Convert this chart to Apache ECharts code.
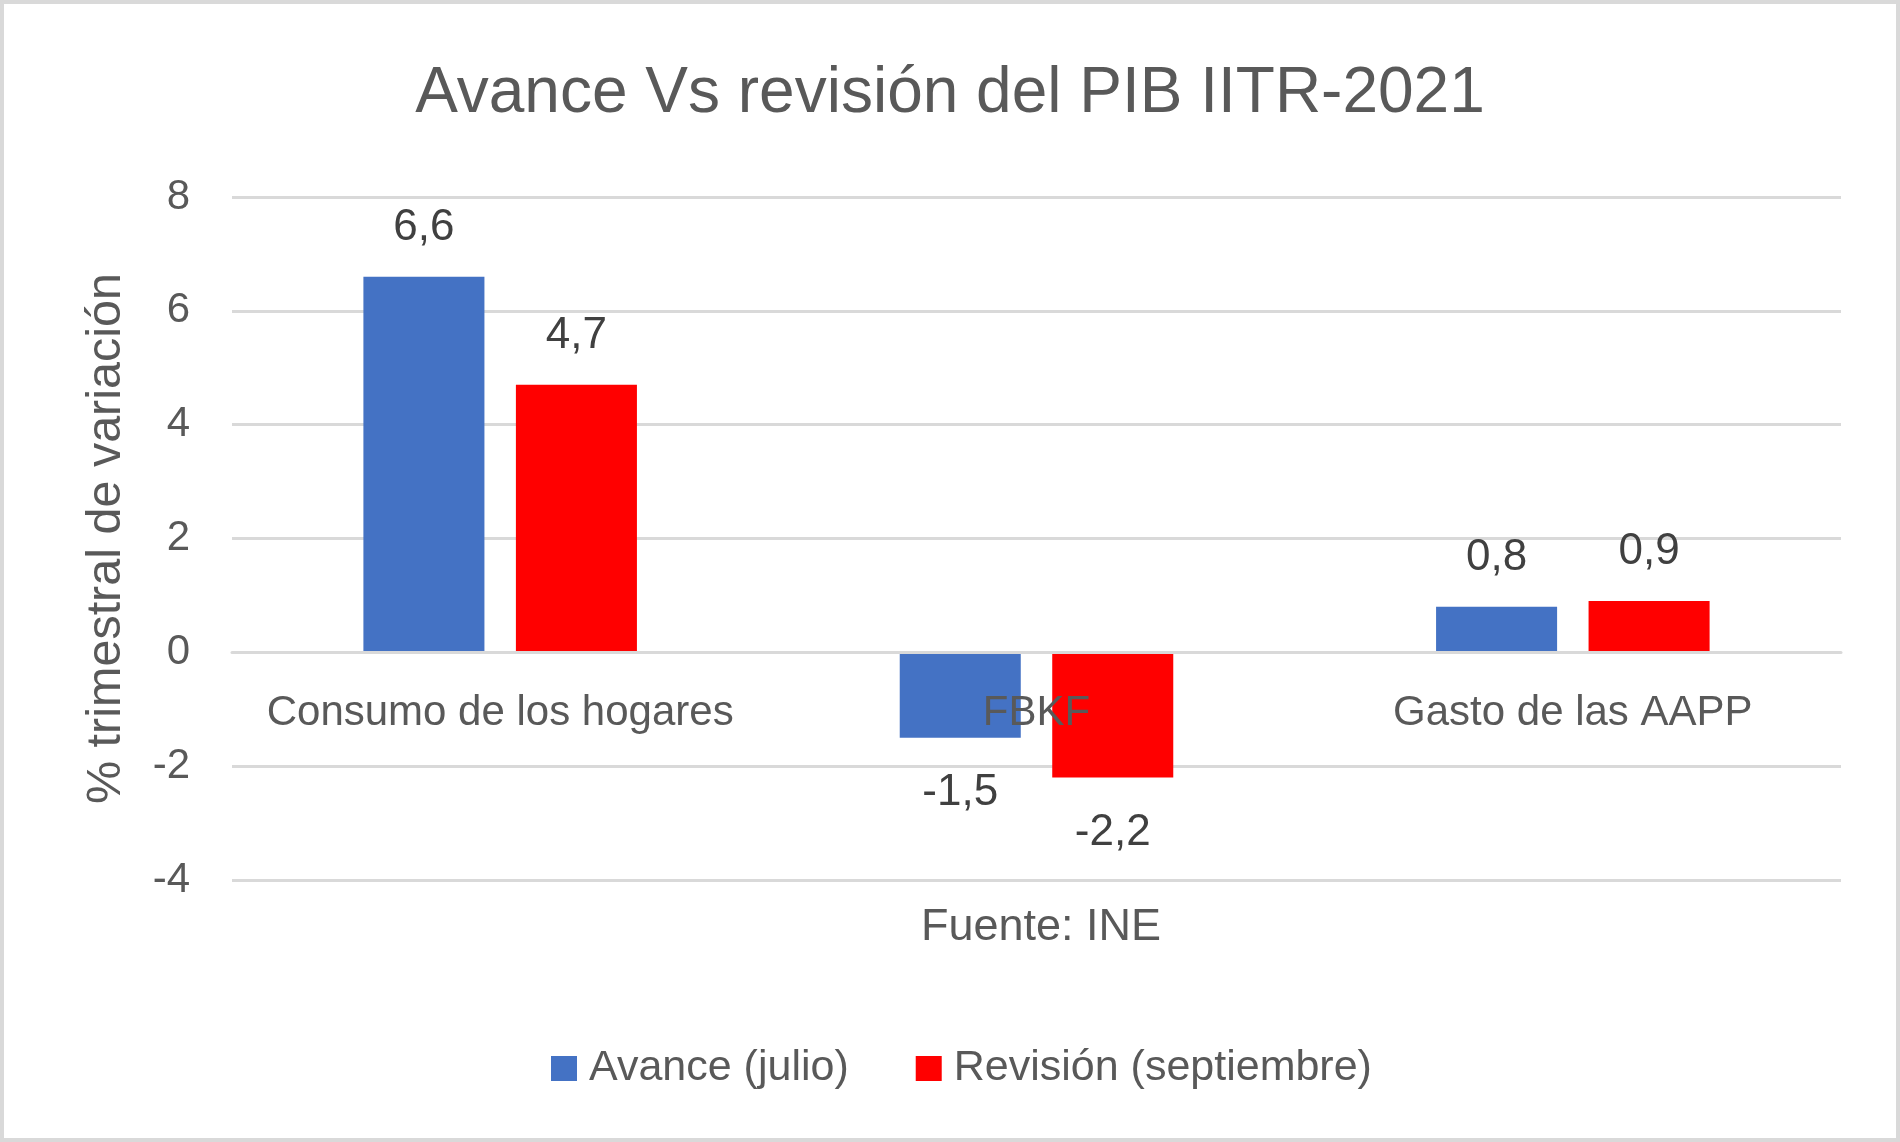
<!DOCTYPE html>
<html>
<head>
<meta charset="utf-8">
<script src="https://cdn.jsdelivr.net/npm/echarts@6/dist/echarts.min.js"></script>
<style>
html,body{margin:0;padding:0;background:#fff;}
#chart{position:absolute;left:0;top:0;width:1900px;height:1142px;}
#frame{position:absolute;left:0;top:0;width:1900px;height:1142px;box-sizing:border-box;border:4px solid #d9d9d9;pointer-events:none;}
</style>
</head>
<body>
<div id="chart"></div>
<div id="frame"></div>
<script>
var titleText = 'Avance Vs revisión del PIB IITR-2021';
var sourceText = 'Fuente: INE';
var yAxisName = '% trimestral de variación';
var categories = ['Consumo de los hogares', 'FBKF', 'Gasto de las AAPP'];
var seriesNames = ['Avance (julio)', 'Revisión (septiembre)'];
var avanceValues = [6.6, -1.5, 0.8];
var revisionValues = [4.7, -2.2, 0.9];
var seriesColors = ['#4472C4', '#FF0000'];
var yMin = -4, yMax = 8, yInterval = 2;

var FONT = "'Liberation Sans', Arial, sans-serif";

function toItems(vals) {
  return vals.map(function (v) {
    return {
      value: v,
      label: { position: v < 0 ? 'bottom' : 'top', distance: v < 0 ? 33 : 27 }
    };
  });
}

var gridTop = 197, gridBottom = 262, chartH = 1142;
var plotH = chartH - gridTop - gridBottom;
// shift the category axis up to the zero line
var zeroOffset = -plotH * (0 - yMin) / (yMax - yMin);

var chart = echarts.init(document.getElementById('chart'));
chart.setOption({
  backgroundColor: '#ffffff',
  animation: false,
  textStyle: { fontFamily: FONT },
  title: [
    {
      text: titleText,
      left: 'center',
      top: 57,
      textStyle: { fontFamily: FONT, fontSize: 64, fontWeight: 'normal', color: '#595959' }
    },
    {
      text: sourceText,
      left: 1036,
      textAlign: 'center',
      top: 900,
      textStyle: { fontFamily: FONT, fontSize: 45, fontWeight: 'normal', color: '#595959' }
    }
  ],
  legend: {
    data: seriesNames,
    left: 546,
    top: 1042,
    icon: 'rect',
    itemWidth: 26,
    itemHeight: 25,
    itemGap: 67,
    textStyle: { fontFamily: FONT, fontSize: 43, color: '#595959', padding: [0, 0, 0, 7] }
  },
  grid: { left: 232, right: 59, top: gridTop, bottom: gridBottom },
  xAxis: {
    type: 'category',
    data: categories,
    z: 5,
    offset: zeroOffset,
    axisLine: { show: true, onZero: false, lineStyle: { color: '#D9D9D9', width: 3 } },
    axisTick: { show: false },
    axisLabel: { interval: 0, margin: 40, fontFamily: FONT, fontSize: 42, color: '#595959' },
    splitLine: { show: false }
  },
  yAxis: {
    type: 'value',
    min: yMin,
    max: yMax,
    interval: yInterval,
    name: yAxisName,
    nameLocation: 'middle',
    nameRotate: 90,
    nameGap: 101,
    nameTextStyle: { fontFamily: FONT, fontSize: 48.5, color: '#595959' },
    axisLine: { show: false },
    axisTick: { show: false },
    axisLabel: { margin: 42, fontFamily: FONT, fontSize: 42, color: '#595959' },
    splitLine: { show: true, lineStyle: { color: '#D9D9D9', width: 3 } }
  },
  series: [
    {
      name: seriesNames[0],
      type: 'bar',
      data: toItems(avanceValues),
      itemStyle: { color: seriesColors[0] },
      barGap: '26%',
      barCategoryGap: '49%',
      label: {
        show: true,
        fontFamily: FONT,
        fontSize: 44,
        color: '#404040',
        formatter: function (p) { return String(p.value).replace('.', ','); }
      }
    },
    {
      name: seriesNames[1],
      type: 'bar',
      data: toItems(revisionValues),
      itemStyle: { color: seriesColors[1] },
      barGap: '26%',
      barCategoryGap: '49%',
      label: {
        show: true,
        fontFamily: FONT,
        fontSize: 44,
        color: '#404040',
        formatter: function (p) { return String(p.value).replace('.', ','); }
      }
    }
  ]
});
</script>
</body>
</html>
